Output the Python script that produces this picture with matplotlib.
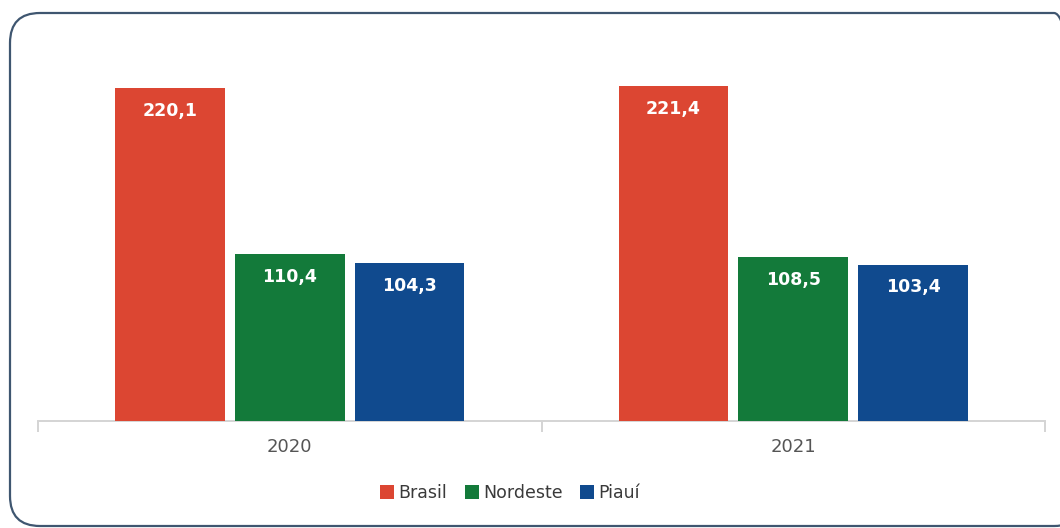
import matplotlib.pyplot as plt
import numpy as np
from matplotlib.patches import FancyBboxPatch
from matplotlib.transforms import IdentityTransform

# Data
anos = ["2020", "2021"]
regioes = ["Brasil", "Nordeste", "Piauí"]
valores = {
    "Brasil": [220.1, 221.4],
    "Nordeste": [110.4, 108.5],
    "Piauí": [104.3, 103.4],
}
cores = {"Brasil": "#dc4632", "Nordeste": "#137a3a", "Piauí": "#104a8e"}

W, H = 1060, 528
fig = plt.figure(figsize=(W / 100, H / 100), dpi=100)
fig.patch.set_facecolor("white")

# rounded frame around the whole chart (right side runs off the canvas)
frame = FancyBboxPatch((10, 2), 1074, 513, boxstyle="round,pad=0,rounding_size=30",
                       transform=IdentityTransform(), facecolor="none",
                       edgecolor="#3f5670", linewidth=1.6)
fig.patches.append(frame)

ax = fig.add_axes([38 / W, (H - 421) / H, 1007 / W, (421 - 40) / H])

x = np.arange(len(anos))
passo = 0.238
largura = 0.218

for i, reg in enumerate(regioes):
    pos = x + (i - 1) * passo
    bars = ax.bar(pos, valores[reg], width=largura, color=cores[reg], label=reg, zorder=3)
    for b, v in zip(bars, valores[reg]):
        ax.text(b.get_x() + b.get_width() / 2, v - 15, f"{v:.1f}".replace(".", ","),
                ha="center", va="center", color="white", fontsize=12.5, fontweight="bold")

ax.set_xlim(-0.5, 1.5)
ax.set_ylim(0, 251.8)

for s in ["top", "right", "left"]:
    ax.spines[s].set_visible(False)
ax.spines["bottom"].set_color("#d4d4d4")
ax.spines["bottom"].set_linewidth(1.4)
ax.set_yticks([])

ax.set_xticks(x)
ax.set_xticklabels(anos, fontsize=13, color="#555555")
ax.tick_params(axis="x", which="major", length=0, pad=12)
ax.set_xticks([-0.5, 0.5, 1.5], minor=True)
ax.tick_params(axis="x", which="minor", length=8, width=1.4, color="#d4d4d4")

leg = fig.legend(loc="center", bbox_to_anchor=(510 / W, (H - 493) / H), ncol=3,
                 frameon=False, fontsize=12.5, handlelength=0.8, handleheight=0.8,
                 handletextpad=0.25, columnspacing=1.0, borderpad=0)
for t in leg.get_texts():
    t.set_color("#3a3a3a")

fig.savefig("out.png", dpi=100)
